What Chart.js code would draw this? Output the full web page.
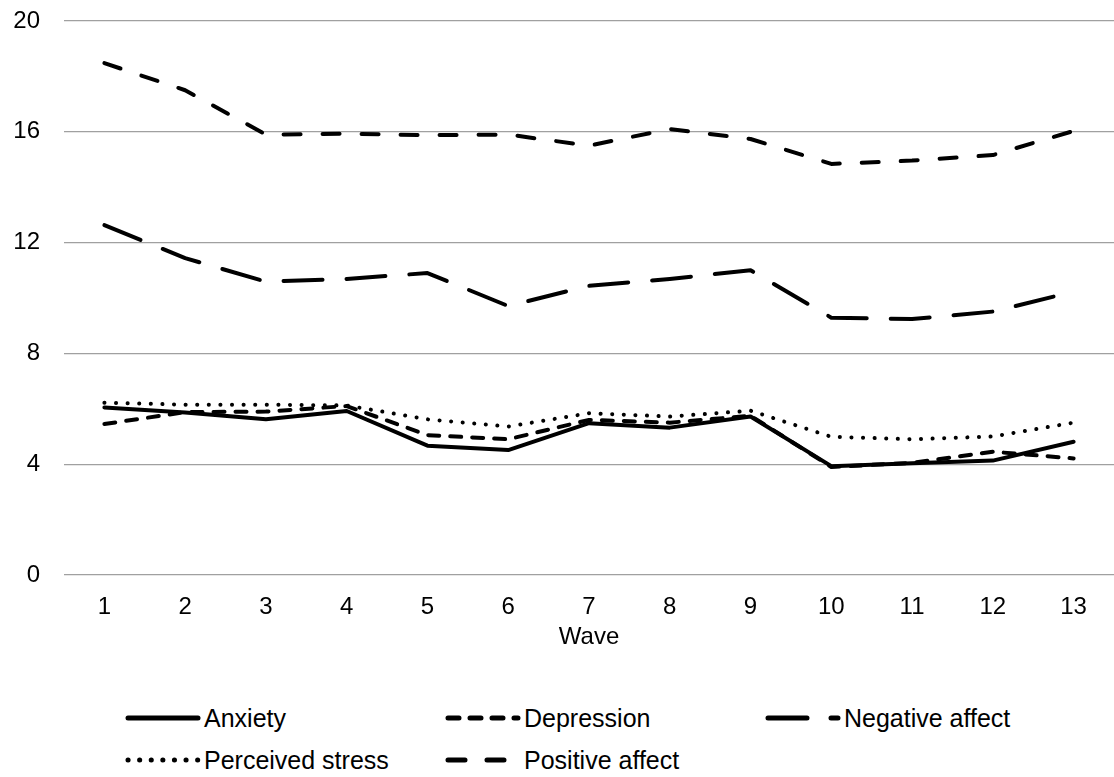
<!DOCTYPE html>
<html>
<head>
<meta charset="utf-8">
<script src="https://cdn.jsdelivr.net/npm/chart.js@4.4.1/dist/chart.umd.min.js"></script>
<style>
  html, body { margin: 0; padding: 0; background: #fff; }
  body { width: 1114px; height: 777px; position: relative; overflow: hidden;
         font-family: "Liberation Sans", Arial, sans-serif; }
  #chartBox { position: absolute; left: 0; top: 0; width: 1114px; height: 665px; }
  .legend-item { position: absolute; display: flex; align-items: center; height: 34px;
                 font-size: 25px; color: #000; white-space: nowrap; }
  .legend-item canvas { display: block; margin-right: 3px; }
</style>
</head>
<body>
<div id="chartBox"><canvas id="chart"></canvas></div>
<div id="legend"></div>
<script>
  // ---------------------------------------------------------
  // Data
  // ---------------------------------------------------------
  const waves = ["1", "2", "3", "4", "5", "6", "7", "8", "9", "10", "11", "12", "13"];

  const anxiety         = [6.05, 5.87, 5.62, 5.92, 4.67, 4.51, 5.48, 5.32, 5.72, 3.93, 4.03, 4.13, 4.81];
  const depression      = [5.45, 5.88, 5.90, 6.10, 5.05, 4.90, 5.60, 5.50, 5.75, 3.90, 4.05, 4.45, 4.21];
  const negativeAffect  = [12.63, 11.44, 10.59, 10.69, 10.90, 9.71, 10.44, 10.69, 11.00, 9.29, 9.24, 9.51, 10.23];
  const perceivedStress = [6.22, 6.15, 6.15, 6.12, 5.62, 5.36, 5.84, 5.72, 5.93, 4.99, 4.90, 5.00, 5.50];
  const positiveAffect  = [18.48, 17.50, 15.90, 15.93, 15.88, 15.90, 15.50, 16.10, 15.74, 14.84, 14.96, 15.16, 16.03];

  const yTicks = [0, 4, 8, 12, 16, 20];

  // one entry per line, dash pattern for each
  const series = [
    { label: "Anxiety",          data: anxiety,         dash: [] },
    { label: "Depression",       data: depression,      dash: [11, 11] },
    { label: "Negative affect",  data: negativeAffect,  dash: [39, 24] },
    { label: "Perceived stress", data: perceivedStress, dash: [0.1, 11.5] },
    { label: "Positive affect",  data: positiveAffect,  dash: [17, 22] }
  ];

  const FONT = "'Liberation Sans', Arial, sans-serif";

  // ---------------------------------------------------------
  // Chart
  // ---------------------------------------------------------
  const ctx = document.getElementById("chart").getContext("2d");

  new Chart(ctx, {
    type: "line",
    data: {
      labels: waves,
      datasets: series.map(s => ({
        label: s.label,
        data: s.data,
        borderColor: "#000",
        backgroundColor: "#000",
        borderWidth: 4,
        borderDash: s.dash,
        borderCapStyle: "round",
        borderJoinStyle: "round",
        pointRadius: 0,
        tension: 0,
        fill: false
      }))
    },
    options: {
      responsive: true,
      maintainAspectRatio: false,
      animation: false,
      layout: { padding: { left: 12, right: 0, top: 21, bottom: 13 } },
      plugins: {
        legend: { display: false },
        tooltip: { enabled: false }
      },
      scales: {
        x: {
          offset: true,
          grid: { display: false, drawTicks: false },
          border: { display: false },
          ticks: { color: "#000", font: { family: FONT, size: 24 }, padding: 18, maxRotation: 0 },
          title: { display: true, text: "Wave", color: "#000", font: { family: FONT, size: 24 }, padding: { top: 0, bottom: 0 } },
          afterFit: axis => { axis.height = 77; }
        },
        y: {
          min: 0,
          max: 20,
          afterBuildTicks: axis => { axis.ticks = yTicks.map(v => ({ value: v })); },
          afterFit: axis => {
            axis.width = 52;
            axis.paddingTop = 0;
            axis.paddingBottom = 0;
          },
          grid: { color: "#a0a0a0", lineWidth: 1.3, drawTicks: false },
          border: { display: false },
          ticks: { color: "#000", font: { family: FONT, size: 24 }, padding: 24 }
        }
      }
    }
  });

  // ---------------------------------------------------------
  // Legend (HTML, samples drawn with the same dash styles)
  // ---------------------------------------------------------
  const legendPos = [
    { left: 125, top: 701 },
    { left: 445, top: 701 },
    { left: 765, top: 701 },
    { left: 125, top: 743 },
    { left: 445, top: 743 }
  ];

  const legend = document.getElementById("legend");
  series.forEach((s, i) => {
    const item = document.createElement("div");
    item.className = "legend-item";
    item.style.left = legendPos[i].left + "px";
    item.style.top = legendPos[i].top + "px";

    const c = document.createElement("canvas");
    c.width = 76;
    c.height = 12;
    const g = c.getContext("2d");
    g.strokeStyle = "#000";
    g.lineWidth = 5;
    g.lineCap = "round";
    g.setLineDash(s.dash);
    g.beginPath();
    g.moveTo(3, 6);
    g.lineTo(73, 6);
    g.stroke();

    const span = document.createElement("span");
    span.textContent = s.label;

    item.appendChild(c);
    item.appendChild(span);
    legend.appendChild(item);
  });
</script>
</body>
</html>
